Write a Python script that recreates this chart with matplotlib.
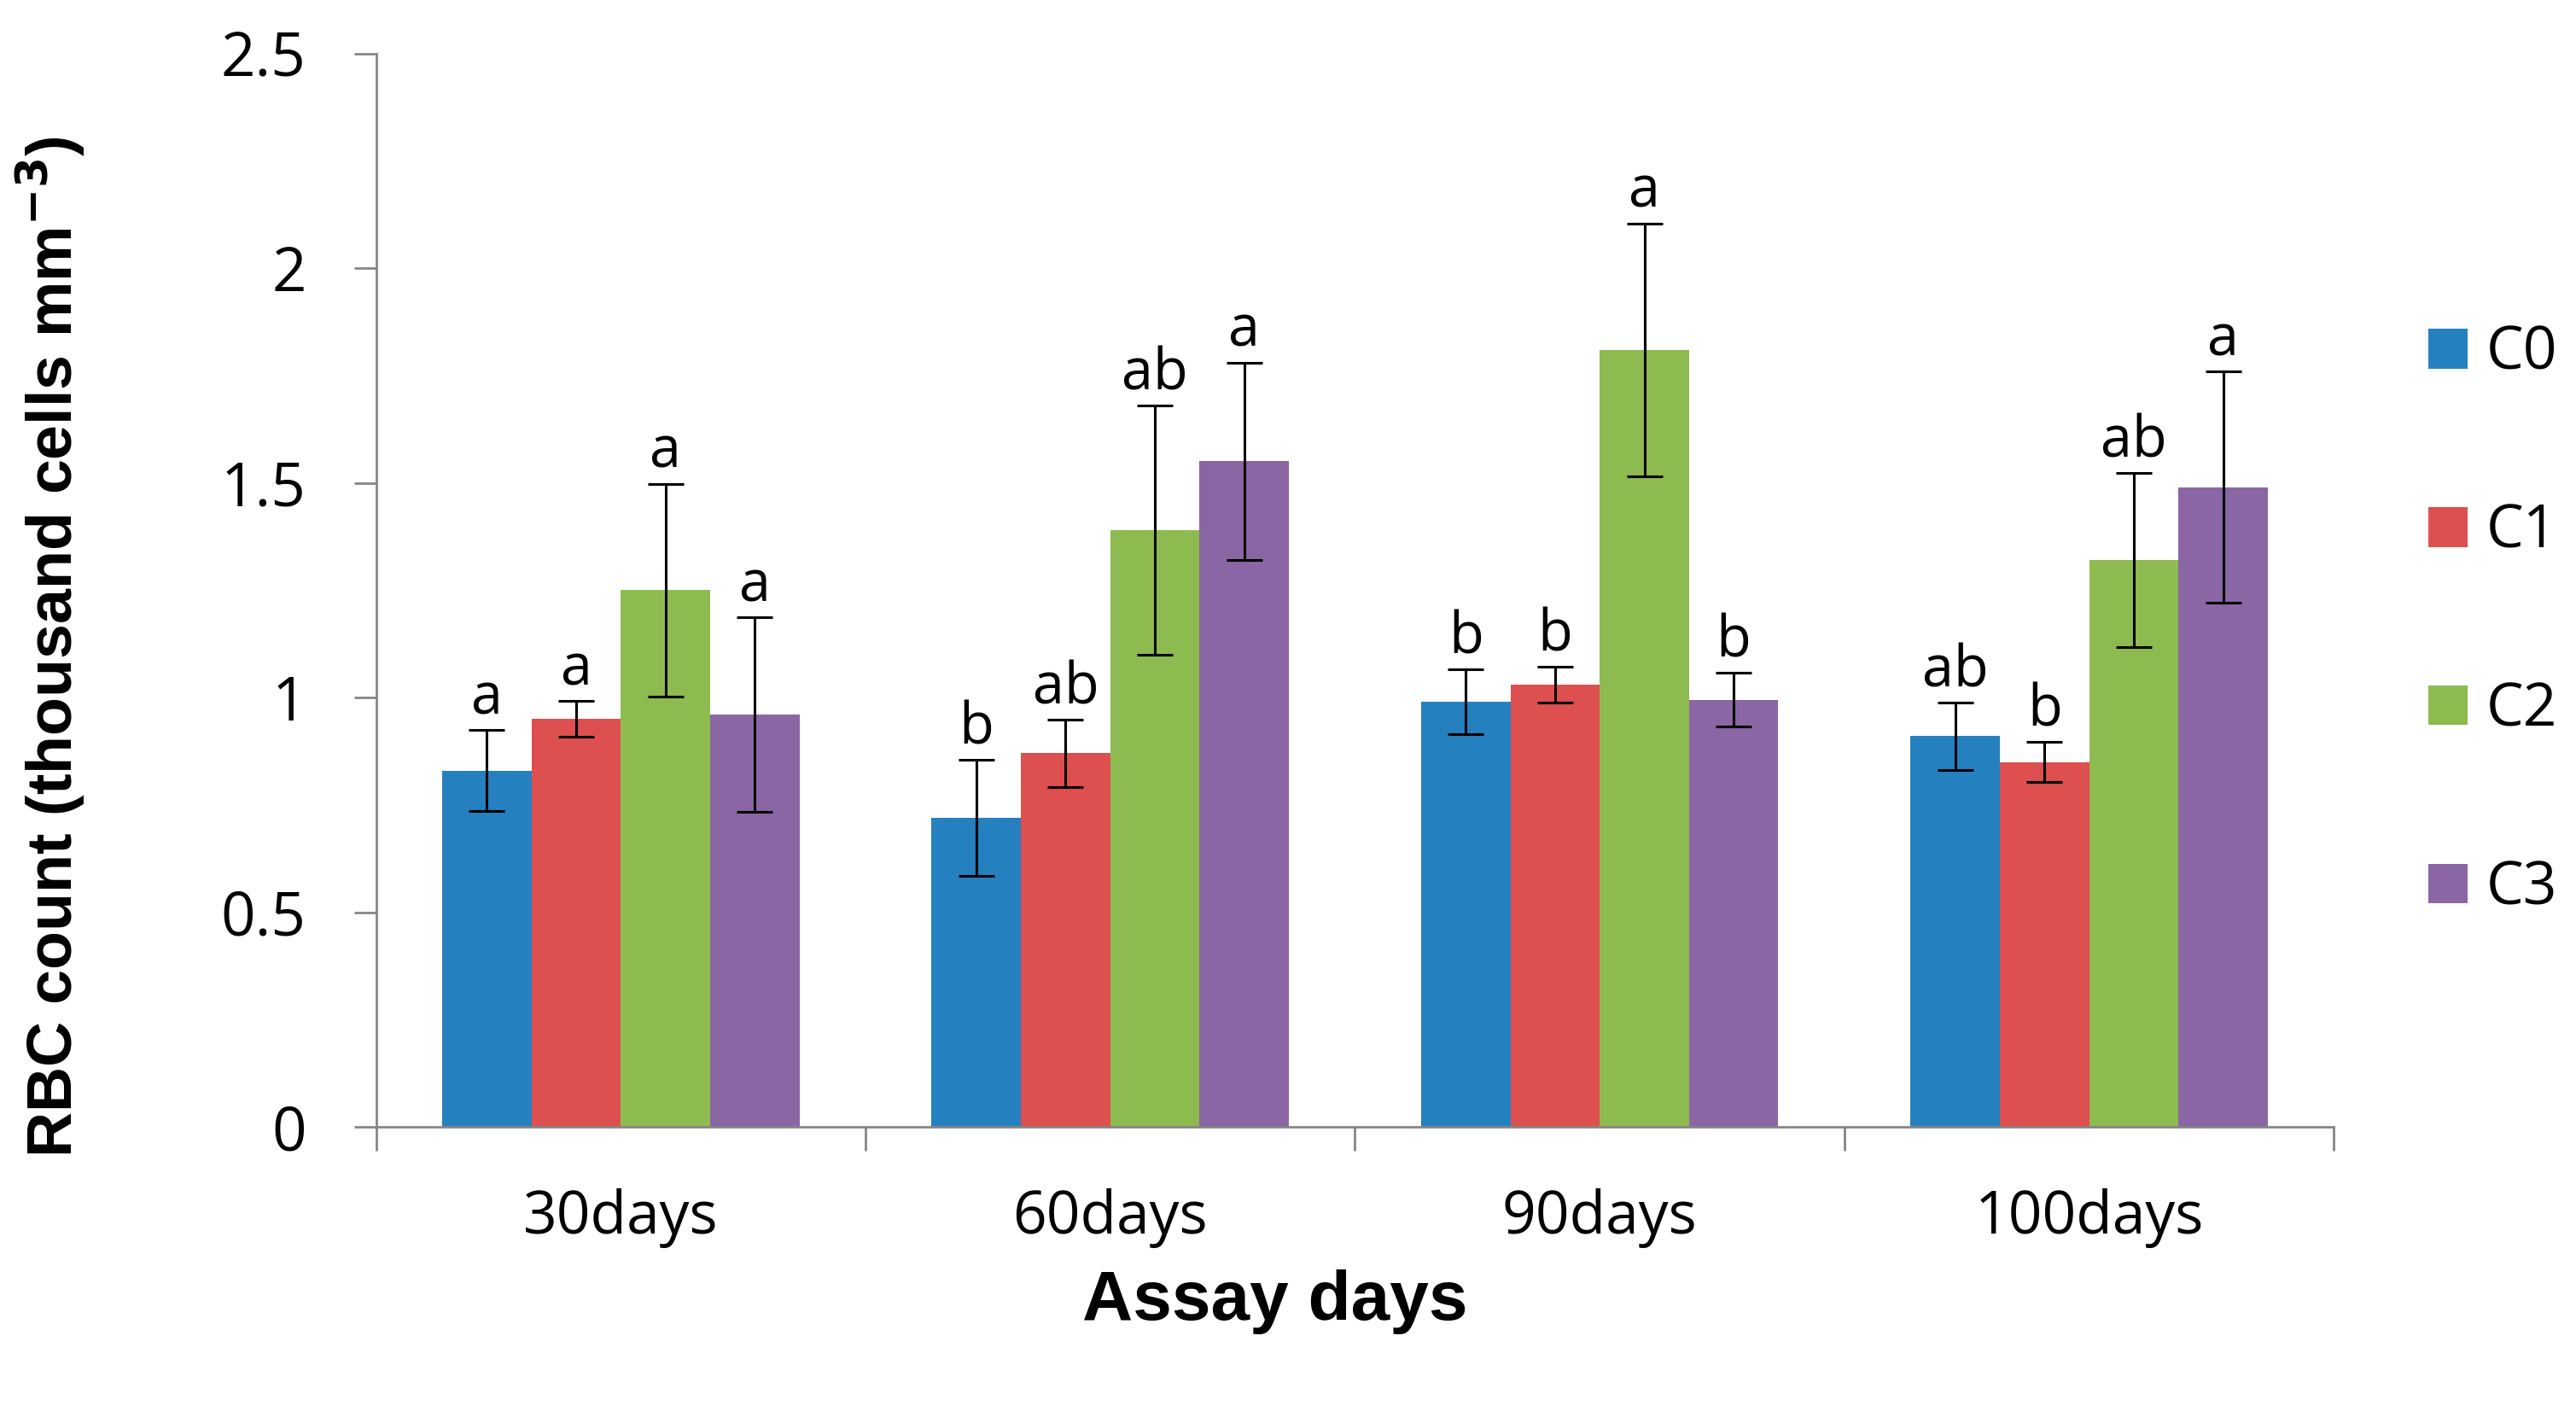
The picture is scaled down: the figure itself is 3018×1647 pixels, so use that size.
import numpy as np
import matplotlib
matplotlib.use("Agg")
import matplotlib.pyplot as plt

days = ["30days", "60days", "90days", "100days"]
groups = ["C0", "C1", "C2", "C3"]
colors = ["#2580c0", "#dd504f", "#8dbb50", "#8a66a5"]

c0 = [0.83, 0.72, 0.99, 0.91]
c1 = [0.95, 0.87, 1.03, 0.85]
c2 = [1.25, 1.39, 1.81, 1.32]
c3 = [0.96, 1.55, 0.995, 1.49]

c0_err = [0.095, 0.135, 0.075, 0.078]
c1_err = [0.042, 0.078, 0.042, 0.046]
c2_err = [0.248, 0.29, 0.294, 0.203]
c3_err = [0.227, 0.23, 0.063, 0.27]

c0_lab = ["a", "b", "b", "ab"]
c1_lab = ["a", "ab", "b", "b"]
c2_lab = ["a", "ab", "a", "ab"]
c3_lab = ["a", "a", "b", "a"]

means = [c0, c1, c2, c3]
errs = [c0_err, c1_err, c2_err, c3_err]
labs = [c0_lab, c1_lab, c2_lab, c3_lab]

fig = plt.figure(figsize=(30.18, 16.47), dpi=100)
ax = fig.add_axes([0.146, 0.1985, 0.76, 0.7635])

x = np.arange(len(days))
w = 0.1825
for i in range(4):
    xs = x + (i - 1.5) * w
    ax.bar(xs, means[i], w, color=colors[i], label=groups[i], zorder=2)
    ax.errorbar(xs, means[i], yerr=errs[i], fmt="none", ecolor="black",
                elinewidth=2.2, capsize=15, capthick=2.2, zorder=3)
    for j in range(len(days)):
        ax.annotate(labs[i][j], (xs[j], means[i][j] + errs[i][j]),
                    xytext=(0, 2), textcoords="offset points",
                    ha="center", va="bottom", fontsize=48,
                    family="Open Sans")

ax.set_xlim(-0.5, 3.5)
ax.set_ylim(0, 2.5)
ax.set_yticks([0, 0.5, 1, 1.5, 2, 2.5])
ax.set_yticklabels(["0", "0.5", "1", "1.5", "2", "2.5"], fontsize=51,
                   family="Open Sans")
ax.tick_params(axis="y", length=19, width=2, color="#868686", pad=40)

ax.set_xticks(np.arange(-0.5, 4, 1))
ax.set_xticklabels([])
ax.tick_params(axis="x", which="major", length=20, width=2, color="#868686")
ax.set_xticks(x, minor=True)
ax.set_xticklabels(days, minor=True, fontsize=50, family="Open Sans")
ax.tick_params(axis="x", which="minor", length=0, pad=52)

for s in ["top", "right"]:
    ax.spines[s].set_visible(False)
for s in ["left", "bottom"]:
    ax.spines[s].set_color("#868686")
    ax.spines[s].set_linewidth(2)

fig.text(0.0195, 0.54, "RBC count (thousand cells mm$^{\\mathbf{-3}}$)",
         rotation=90, ha="center", va="center", fontsize=53,
         fontweight="bold", family="Liberation Sans")
fig.text(0.495, 0.074, "Assay days", ha="center", va="center",
         fontsize=59, fontweight="bold", family="Liberation Sans")

leg = fig.legend(loc="center left", bbox_to_anchor=(0.9427, 0.558),
                 frameon=False, labelspacing=2.0,
                 handlelength=0.66, handleheight=0.66, handletextpad=0.32,
                 borderpad=0, borderaxespad=0,
                 prop={"family": "Open Sans", "size": 50})

fig.savefig("out.png", dpi=100)
